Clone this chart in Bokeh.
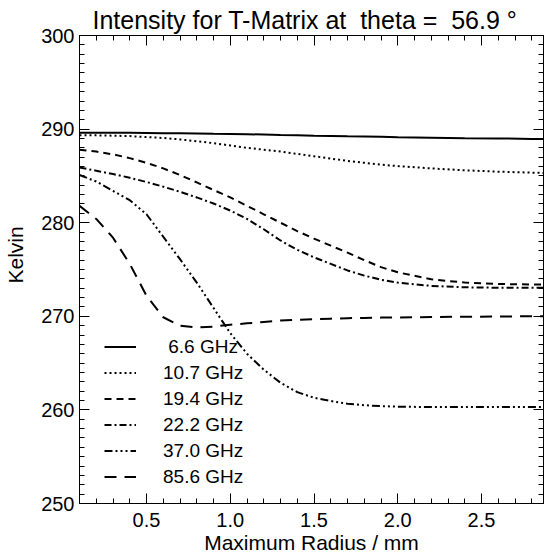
import numpy as np
from bokeh.plotting import figure
from bokeh.models import (Range1d, LinearAxis, FixedTicker, PrintfTickFormatter,
                          CustomJSTickFormatter, Legend, LegendItem)
from bokeh.embed import file_html
from bokeh.resources import INLINE

# ---------------- data ----------------
radius = [0.1, 0.2, 0.3, 0.4, 0.5, 0.6, 0.7, 0.8, 0.9, 1.0, 1.1, 1.2, 1.3, 1.4,
          1.5, 1.6, 1.7, 1.8, 1.9, 2.0, 2.2, 2.4, 2.6, 2.8, 2.9]

t_6_6 = [289.6, 289.6, 289.6, 289.6, 289.58, 289.56, 289.55, 289.53, 289.5, 289.48,
         289.45, 289.42, 289.38, 289.35, 289.3, 289.27, 289.23, 289.2, 289.17, 289.13,
         289.08, 289.03, 289.0, 288.95, 288.93]
t_10_7 = [289.35, 289.33, 289.3, 289.25, 289.15, 289.05, 288.9, 288.7, 288.5, 288.25,
          288.0, 287.8, 287.6, 287.35, 287.1, 286.85, 286.6, 286.4, 286.2, 286.05,
          285.8, 285.6, 285.45, 285.35, 285.3]
t_19_4 = [287.8, 287.6, 287.3, 286.9, 286.4, 285.8, 285.1, 284.3, 283.5, 282.7,
          281.8, 280.9, 280.0, 279.1, 278.3, 277.55, 276.8, 276.0, 275.25, 274.7,
          273.95, 273.6, 273.45, 273.4, 273.4]
t_22_2 = [285.9, 285.55, 285.2, 284.8, 284.35, 283.85, 283.3, 282.7, 282.05, 281.3,
          280.4, 279.3, 278.1, 277.1, 276.3, 275.6, 274.9, 274.35, 273.9, 273.6,
          273.25, 273.1, 273.05, 273.05, 273.05]
t_37_0 = [285.1, 284.4, 283.4, 282.4, 280.9, 278.5, 276.1, 273.6, 270.9, 268.2,
          266.0, 264.3, 262.9, 261.9, 261.3, 260.95, 260.65, 260.5, 260.4, 260.35,
          260.3, 260.3, 260.3, 260.3, 260.3]
t_85_6 = [281.8, 280.4, 278.4, 275.6, 272.2, 269.9, 269.0, 268.8, 268.9, 269.1,
          269.25, 269.4, 269.55, 269.62, 269.68, 269.75, 269.8, 269.83, 269.86, 269.88,
          269.92, 269.95, 269.98, 270.0, 270.0]

series_labels = ["\u00a06.6 GHz", "10.7 GHz", "19.4 GHz", "22.2 GHz", "37.0 GHz", "85.6 GHz"]
series_values = [t_6_6, t_10_7, t_19_4, t_22_2, t_37_0, t_85_6]
series_dashes = ["solid", "2 3", "7 5", "7 3 2 3", "8 3 2 3 2 3 2 3", "12 8"]

x_major = [0.5, 1.0, 1.5, 2.0, 2.5]
x_minor = [round(0.1 * i, 1) for i in range(1, 29)]
y_major = [250, 260, 270, 280, 290, 300]
y_minor = list(range(250, 301))

FONT = "Liberation Sans"

# ---------------- figure ----------------
p = figure(width=545, height=559, x_range=Range1d(0.1, 2.87), y_range=Range1d(250, 300),
           output_backend="svg", toolbar_location=None,
           min_border_left=78, min_border_right=2, min_border_top=35, min_border_bottom=56)
p.grid.visible = False
p.outline_line_color = "black"
p.outline_line_width = 1
p.background_fill_color = "white"
p.border_fill_color = "white"

p.title.text = "Intensity for T-Matrix at\u00a0 theta =\u00a0 56.9 \u00b0"
p.title.align = "left"
p.title.offset = 13
p.title.standoff = 4
p.title.text_font = FONT
p.title.text_font_size = "25px"
p.title.text_font_style = "normal"
p.title.text_color = "black"

xt = FixedTicker(ticks=x_major, minor_ticks=x_minor)
yt = FixedTicker(ticks=y_major, minor_ticks=y_minor)


def style_axis(ax, labels=True):
    ax.axis_line_color = "black"
    ax.major_tick_line_color = "black"
    ax.minor_tick_line_color = "black"
    ax.major_tick_in = 10
    ax.major_tick_out = 0
    ax.minor_tick_in = 5
    ax.minor_tick_out = 0
    ax.major_label_text_font = FONT
    ax.major_label_text_font_size = "20px"
    ax.major_label_text_color = "black"
    ax.axis_label_text_font = FONT
    ax.axis_label_text_font_size = "21px"
    ax.axis_label_text_font_style = "normal"
    ax.axis_label_text_color = "black"
    if not labels:
        ax.formatter = CustomJSTickFormatter(code="return ''")
        ax.major_label_standoff = 0
        ax.major_label_text_font_size = "0px"


p.xaxis.ticker = xt
p.xaxis.formatter = PrintfTickFormatter(format="%.1f")
p.yaxis.ticker = yt
p.yaxis.formatter = PrintfTickFormatter(format="%d")
for ax in p.xaxis:
    style_axis(ax)
    ax.major_label_standoff = 9
    ax.axis_label = "Maximum Radius / mm"
    ax.axis_label_standoff = 1
for ax in p.yaxis:
    style_axis(ax)
    ax.major_label_standoff = 5

# outer left axis only carries the "Kelvin" title (set a little above centre, as in the original)
kel_ax = LinearAxis(ticker=FixedTicker(ticks=[]))
style_axis(kel_ax, labels=False)
kel_ax.axis_line_color = None
kel_ax.major_tick_in = 0
kel_ax.minor_tick_in = 0
kel_ax.axis_label = "\u00a0\u00a0\u00a0\u00a0\u00a0Kelvin"
kel_ax.axis_label_standoff = 12
p.add_layout(kel_ax, "left")

top_ax = LinearAxis(ticker=xt)
style_axis(top_ax, labels=False)
p.add_layout(top_ax, "above")
right_ax = LinearAxis(ticker=yt)
style_axis(right_ax, labels=False)
p.add_layout(right_ax, "right")

# ---------------- lines ----------------
items = []
for lab, vals, dash in zip(series_labels, series_values, series_dashes):
    r = p.line(radius, vals, line_color="black", line_width=2, line_dash=dash)
    items.append(LegendItem(label=lab, renderers=[r]))

legend = Legend(items=items, location=(25, 15), orientation="vertical",
                glyph_width=32, glyph_height=23, label_height=23, spacing=3,
                label_standoff=27, padding=0, margin=0,
                label_text_font=FONT, label_text_font_size="19px",
                label_text_color="black",
                border_line_color=None, background_fill_alpha=0)
p.add_layout(legend)

open("out.html", "w").write(file_html(p, INLINE))
